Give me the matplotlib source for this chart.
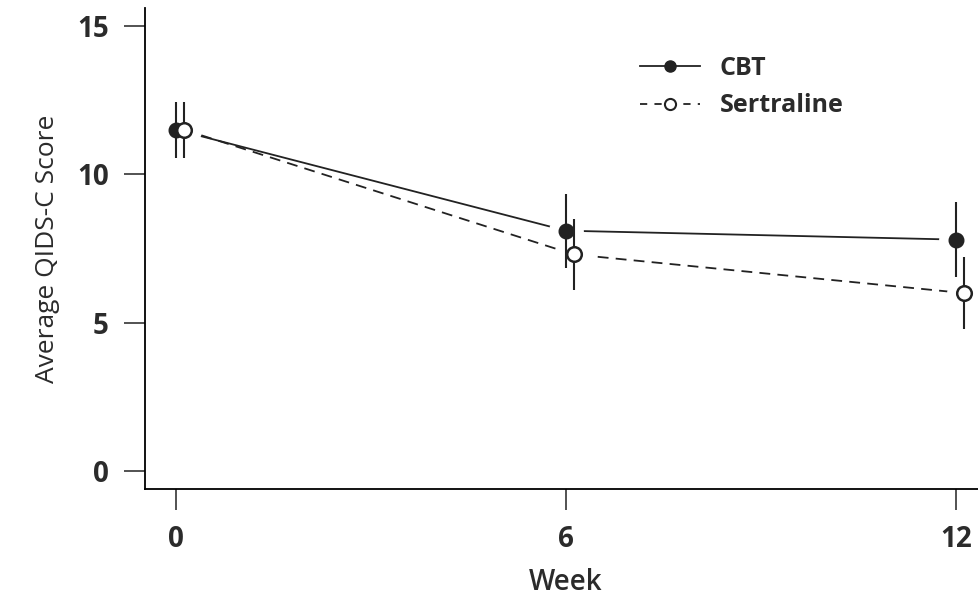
# QIDS-C score by week, CBT vs Sertraline

import matplotlib.pyplot as plt

weeks = [0, 6, 12]
cbt_mean = [11.5, 8.1, 7.8]
cbt_err = [0.95, 1.25, 1.25]
sert_mean = [11.5, 7.3, 6.0]
sert_err = [0.95, 1.2, 1.2]
offset = 0.12  # sertraline points nudged right so bars don't overlap

sert_x = [w + offset for w in weeks]
ink = '#222222'
txt = '#2b2b2b'

plt.rcParams['font.family'] = ['Open Sans', 'DejaVu Sans']

fig = plt.figure(figsize=(9.79, 6.02), dpi=100)
ax = fig.add_axes([0.1481, 0.1877, 0.860, 0.799])

# lines
ax.plot(weeks, cbt_mean, color=ink, lw=1.3, zorder=1)
ax.plot(sert_x, sert_mean, color=ink, lw=1.3, ls=(0, (6, 4)), zorder=1)

# white halos so the lines stop short of the points
ax.plot(weeks, cbt_mean, 'o', ms=24, color='white', zorder=2)
ax.plot(sert_x, sert_mean, 'o', ms=24, color='white', zorder=2)

# error bars
ax.errorbar(weeks, cbt_mean, yerr=cbt_err, fmt='none', ecolor=ink, elinewidth=1.5, zorder=3)
ax.errorbar(sert_x, sert_mean, yerr=sert_err, fmt='none', ecolor=ink, elinewidth=1.5, zorder=3)

# markers
ax.plot(weeks, cbt_mean, 'o', ms=10.5, color=ink, zorder=4)
ax.plot(sert_x, sert_mean, 'o', ms=10.5, mfc='white', mec=ink, mew=1.8, zorder=4)

# legend
h1, = ax.plot([], [], color=ink, lw=1.3, marker='o', ms=8, label='CBT')
h2, = ax.plot([], [], color=ink, lw=1.3, ls=(0, (4, 4)), marker='o', ms=8,
              mfc='white', mec=ink, mew=1.5, label='Sertraline')
leg = ax.legend(handles=[h1, h2], loc='upper left',
                bbox_to_anchor=(640 / 979, 1 - 56 / 602), bbox_transform=fig.transFigure,
                frameon=False, fontsize=18, handlelength=2.4,
                handletextpad=0.8, labelspacing=0.5, borderpad=0, borderaxespad=0)
for t in leg.get_texts():
    t.set_fontweight('bold')
    t.set_color(txt)

ax.set_xlim(-0.48, 12.48)
ax.set_ylim(-0.6, 15.6)
ax.set_xticks(weeks)
ax.set_yticks([0, 5, 10, 15])
ax.tick_params(length=15, width=1.3, color='#444444', labelsize=20, pad=11,
               labelcolor=txt)
for lab in ax.get_xticklabels() + ax.get_yticklabels():
    lab.set_fontweight('bold')

ax.spines['top'].set_visible(False)
ax.spines['right'].set_visible(False)
ax.spines['left'].set_linewidth(1.3)
ax.spines['bottom'].set_linewidth(1.3)

ax.set_xlabel('Week', fontsize=20, fontweight='semibold', color=txt, labelpad=10)
ax.set_ylabel('Average QIDS-C Score', fontsize=19, color=txt, labelpad=12)

fig.savefig('out.png', dpi=100)
